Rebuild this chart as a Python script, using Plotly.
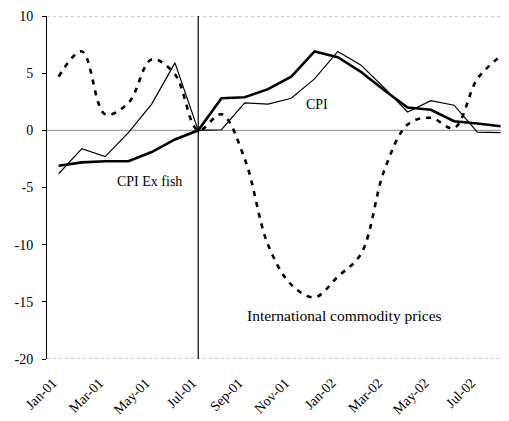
import plotly.graph_objects as go

months = ["Jan-01", "Feb-01", "Mar-01", "Apr-01", "May-01", "Jun-01", "Jul-01", "Aug-01",
          "Sep-01", "Oct-01", "Nov-01", "Dec-01", "Jan-02", "Feb-02", "Mar-02", "Apr-02",
          "May-02", "Jun-02", "Jul-02", "Aug-02"]
tick_labels = ["Jan-01", "Mar-01", "May-01", "Jul-01", "Sep-01", "Nov-01",
               "Jan-02", "Mar-02", "May-02", "Jul-02"]
y_ticks = [-20, -15, -10, -5, 0, 5, 10]
y_tick_text = ["-20", "-15", "-10", "-5", "0", "5", "10"]

cpi = [-3.8, -1.6, -2.3, -0.2, 2.3, 5.9, 0.0, 0.05, 2.4, 2.3, 2.8, 4.5, 6.9, 5.7, 3.7,
       1.6, 2.6, 2.2, -0.15, -0.2]
cpi_ex_fish = [-3.1, -2.8, -2.7, -2.7, -1.9, -0.8, 0.0, 2.8, 2.9, 3.6, 4.7, 6.9, 6.4, 5.1,
               3.5, 2.0, 1.8, 0.8, 0.6, 0.35]
commodity = [4.7, 6.9, 1.4, 2.4, 6.2, 4.9, 0.0, 1.4, -2.5, -10.0, -13.5, -14.6, -12.8,
             -10.8, -3.5, 0.5, 1.1, 0.2, 4.5, 6.5]

font_family = "Liberation Serif, Times New Roman, serif"

fig = go.Figure()
fig.add_trace(go.Scatter(x=months, y=commodity, mode="lines",
                         line=dict(color="black", width=2.6, dash="5px,6px", shape="spline", smoothing=1.0),
                         name="International commodity prices"))
fig.add_trace(go.Scatter(x=months, y=cpi, mode="lines",
                         line=dict(color="black", width=1.2), name="CPI"))
fig.add_trace(go.Scatter(x=months, y=cpi_ex_fish, mode="lines",
                         line=dict(color="black", width=2.6), name="CPI Ex fish"))

shapes = [
    dict(type="line", xref="paper", yref="y", x0=0, x1=1, y0=10, y1=10,
         line=dict(color="#999999", width=1, dash="dot"), layer="below"),
    dict(type="line", xref="paper", yref="y", x0=0, x1=1, y0=-20, y1=-20,
         line=dict(color="#999999", width=1, dash="dot"), layer="below"),
    dict(type="line", xref="paper", yref="y", x0=0, x1=1, y0=0, y1=0,
         line=dict(color="#888888", width=1), layer="below"),
    dict(type="line", xref="x", yref="y", x0="Jul-01", x1="Jul-01", y0=-20, y1=10,
         line=dict(color="black", width=1.2)),
]

annotations = [
    dict(x=3.9, y=-4.5, xref="x", yref="y", text="CPI Ex fish", showarrow=False,
         font=dict(family=font_family, size=14, color="black")),
    dict(x=11.1, y=2.3, xref="x", yref="y", text="CPI", showarrow=False,
         font=dict(family=font_family, size=14, color="black")),
    dict(x=12.3, y=-16.2, xref="x", yref="y", text="International commodity prices", showarrow=False,
         font=dict(family=font_family, size=15.5, color="black")),
]

# page body has an 8px default margin, so the figure is sized/offset to compensate
fig.update_layout(
    width=501, height=413,
    margin=dict(l=39, r=0, t=8, b=62),
    plot_bgcolor="white", paper_bgcolor="white",
    showlegend=False,
    shapes=shapes, annotations=annotations,
    font=dict(family=font_family, size=14, color="black"),
)
fig.update_xaxes(type="category", range=[-0.5, 19.36], tickmode="array",
                 tickvals=tick_labels, ticktext=tick_labels, tickangle=-45,
                 showgrid=False, showline=False, ticks="", zeroline=False, automargin=False,
                 ticklabelstandoff=12, ticklabelshift=-6,
                 tickfont=dict(family=font_family, size=14))
fig.update_yaxes(range=[-20, 10], tickmode="array", tickvals=y_ticks, ticktext=y_tick_text,
                 showgrid=False, zeroline=False, showline=True, linecolor="black", linewidth=1,
                 ticks="outside", ticklen=4, tickcolor="black", automargin=False,
                 ticklabelstandoff=6,
                 tickfont=dict(family=font_family, size=14))

fig.write_html("out.html")
